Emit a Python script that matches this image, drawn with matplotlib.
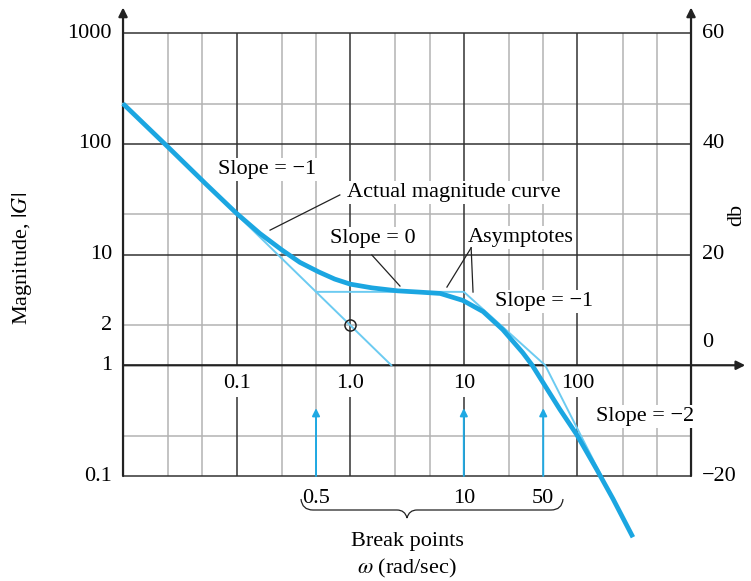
import matplotlib.pyplot as plt
from matplotlib.path import Path
from matplotlib.patches import PathPatch

plt.rcParams['font.family'] = ['Liberation Serif', 'DejaVu Serif']
plt.rcParams['mathtext.fontset'] = 'stix'

# actual magnitude curve
w_actual = [0.01, 0.025, 0.054, 0.1, 0.16, 0.25, 0.36, 0.53, 0.73, 1.0, 1.55,
            2.6, 4.0, 6.2, 9.8, 14.8, 22, 33, 40, 53, 70, 99, 149, 206, 308]
g_actual = [230, 93, 43, 23.5, 15.5, 11.0, 8.5, 6.95, 6.0, 5.4, 5.0,
            4.7, 4.58, 4.45, 3.85, 3.05, 2.1, 1.3, 1.0, 0.63, 0.40, 0.235,
            0.113, 0.062, 0.028]

# straight-line asymptotes
w_asym = [0.01, 0.5, 10, 52, 250]
g_asym = [230, 4.6, 4.6, 1.0, 0.042]
w_ext = [0.5, 2.3]          # low-frequency asymptote carried on past the break
g_ext = [4.6, 1.0]

breaks = [0.5, 10, 50]
break_labels = ['0.5', '10', '50']
w_point, g_point = 1.0, 2.3

# grid
w_major = [0.1, 1, 10, 100]
w_minor = [0.025, 0.05, 0.25, 0.5, 2.5, 5, 25, 50, 250, 500]
g_major = [1000, 100, 10, 0.1]
g_minor = [230, 23, 2.3, 0.23]
w_lo, w_hi = 0.01, 1000
g_lo, g_hi = 0.1, 1000

x_ticks = [0.1, 1, 10, 100]
x_ticklabels = ['0.1', '1.0', '10', '100']
left_ticks = [1000, 100, 10, 2.3, 1, 0.1]
left_labels = ['1000', '100', '10', '2', '1', '0.1']
right_ticks = [1000, 100, 10, 1, 0.1]
right_labels = ['60', '40', '20', '0', '\u221220']

BLUE = '#1ba6e1'
LBLUE = '#6ccbf1'
GRID = '#b3b3b3'
DARK = '#333333'
FS = 16

fig = plt.figure(figsize=(7.51, 5.81), dpi=100)
ax = fig.add_axes([0, 0, 1, 1])
ax.set_xscale('log')
ax.set_yscale('log')
ax.set_xlim(10 ** -3.083, 10 ** 3.528)
ax.set_ylim(10 ** -1.948, 10 ** 3.298)
ax.axis('off')

# grid lines
ax.vlines(w_minor, g_lo, g_hi, color=GRID, lw=1.1, zorder=1)
ax.hlines(g_minor, w_lo, w_hi, color=GRID, lw=1.1, zorder=1)
ax.vlines(w_major, 1, g_hi, color=DARK, lw=1.1, zorder=1.5)
ax.vlines(w_major, g_lo, 0.52, color=DARK, lw=1.1, zorder=1.5)
ax.hlines(g_major, w_lo, w_hi, color=DARK, lw=1.1, zorder=1.5)

# axes with arrows
arrow_kw = dict(arrowstyle='-|>', color='#222222', lw=1.6, mutation_scale=13,
                shrinkA=0, shrinkB=0)
ax.annotate('', xy=(w_lo, 1700), xytext=(w_lo, g_lo), arrowprops=arrow_kw, zorder=3)
ax.annotate('', xy=(w_hi, 1700), xytext=(w_hi, g_lo), arrowprops=arrow_kw, zorder=3)
ax.annotate('', xy=(3000, 1), xytext=(w_lo, 1), arrowprops=arrow_kw, zorder=3)

# asymptotes and actual curve
ax.plot(w_asym, g_asym, color=LBLUE, lw=1.4, zorder=4)
ax.plot(w_ext, g_ext, color=LBLUE, lw=1.4, zorder=4)
ax.plot(w_actual, g_actual, color=BLUE, lw=3.4, solid_capstyle='butt',
        solid_joinstyle='round', zorder=5)
ax.plot([w_point], [g_point], 'o', ms=8, mfc='none', mec='#222222', mew=1.1, zorder=6)

# break point arrows
for w in breaks:
    ax.annotate('', xy=(w, 0.41), xytext=(w, g_lo),
                arrowprops=dict(arrowstyle='-|>', color='#1fa9e3', lw=1.4,
                                mutation_scale=11, shrinkA=0, shrinkB=0), zorder=4)

# tick labels
for v, s in zip(x_ticks, x_ticklabels):
    ax.text(v, 0.69, s, ha='center', va='center', fontsize=FS, zorder=7)
for v, s in zip(left_ticks, left_labels):
    ax.annotate(s, xy=(w_lo, v), xytext=(-8, 0), textcoords='offset points',
                ha='right', va='center', fontsize=FS)
for v, s in zip(right_ticks, right_labels):
    dy = 16.5 if s == '0' else 0
    ax.annotate(s, xy=(w_hi, v), xytext=(8, dy), textcoords='offset points',
                ha='left', va='center', fontsize=FS)

# annotations
box = dict(fc='white', ec='none', pad=1.5)
txt_kw = dict(fontsize=FS, va='center', bbox=box, zorder=7)
ax.text(0.185, 58, 'Slope = \u22121', ha='center', **txt_kw)
ax.text(0.93, 36.6, 'Actual magnitude curve', ha='left', **txt_kw)
ax.text(1.58, 14.0, 'Slope = 0', ha='center', **txt_kw)
ax.text(31.8, 14.3, 'Asymptotes', ha='center', **txt_kw)
ax.text(50.7, 3.78, 'Slope = \u22121', ha='center', **txt_kw)
ax.text(393, 0.348, 'Slope = \u22122', ha='center', **txt_kw)

lead = dict(color='#222222', lw=0.9, zorder=8)
ax.plot([0.197, 0.81], [16.6, 34.5], **lead)
ax.plot([1.55, 2.74], [9.9, 5.19], **lead)
ax.plot([11.6, 7.1], [11.5, 5.08], **lead)
ax.plot([11.6, 12.05], [11.5, 4.58], **lead)

# break points and brace
for w, s in zip(breaks, break_labels):
    ax.text(w, 0.057, s, ha='center', va='baseline', fontsize=FS)

px = lambda x, y: (x / 751, 1 - y / 581)
verts = [px(301, 499), px(302, 510), px(313, 510), px(397, 510), px(405, 510),
         px(407, 518), px(409, 510), px(417, 510), px(551, 510), px(562, 510),
         px(563, 499)]
codes = [Path.MOVETO, Path.CURVE3, Path.CURVE3, Path.LINETO, Path.CURVE3,
         Path.CURVE3, Path.CURVE3, Path.CURVE3, Path.LINETO, Path.CURVE3, Path.CURVE3]
ax.add_patch(PathPatch(Path(verts, codes), fc='none', ec='#222222', lw=0.9,
                       transform=ax.transAxes))

ax.text(*px(407, 546), 'Break points', transform=ax.transAxes, ha='center',
        va='baseline', fontsize=FS)
ax.text(*px(407, 573), r'$\omega$ (rad/sec)', transform=ax.transAxes, ha='center',
        va='baseline', fontsize=FS)
ax.text(*px(22, 258), r'Magnitude, $|G|$', transform=ax.transAxes, ha='center',
        va='center', rotation=90, fontsize=FS)
ax.text(*px(737, 215), 'db', transform=ax.transAxes, ha='center',
        va='center', rotation=90, fontsize=FS)

fig.savefig('out.png', dpi=100)
